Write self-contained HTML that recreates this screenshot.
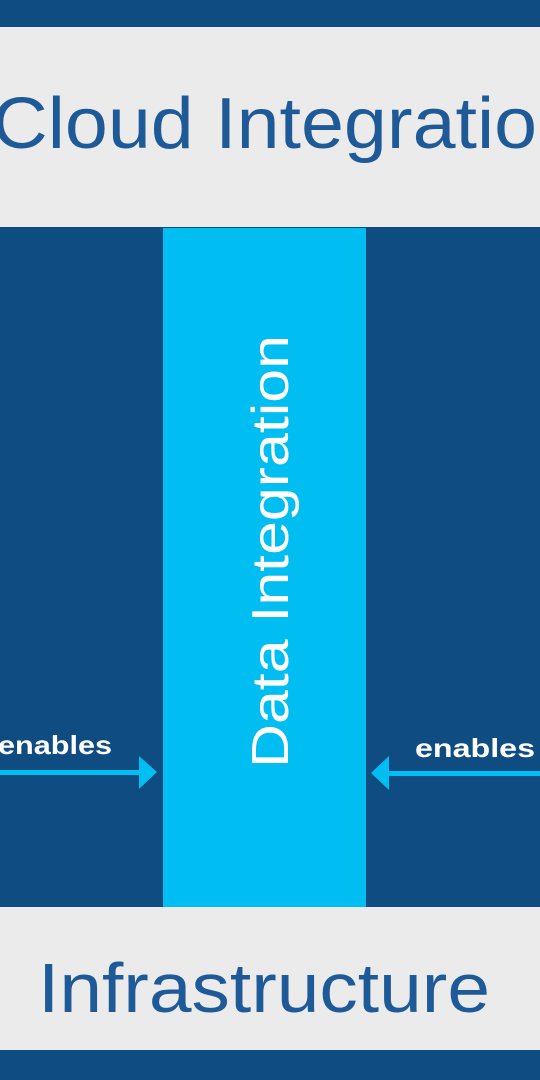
<!DOCTYPE html>
<html><head><meta charset="utf-8"><style>html,body{margin:0;padding:0;background:#0f4c81}svg{display:block}</style></head>
<body>
<svg width="540" height="1080" viewBox="0 0 540 1080" xmlns="http://www.w3.org/2000/svg">
<rect x="0" y="0" width="540" height="1080" fill="#0f4c81"/>
<rect x="0" y="27" width="540" height="200" fill="#ebebeb"/>
<rect x="163" y="228" width="203" height="679" fill="#00bef2"/>
<rect x="0" y="907" width="540" height="143" fill="#ebebeb"/>
<text x="-8" y="148" font-family="Liberation Sans, sans-serif" font-size="72" fill="#1d5a97" textLength="588" lengthAdjust="spacingAndGlyphs">Cloud Integration</text>
<text x="38" y="1012" font-family="Liberation Sans, sans-serif" font-size="70" fill="#1d5a97" textLength="452" lengthAdjust="spacingAndGlyphs">Infrastructure</text>
<text transform="translate(288,768) rotate(-90)" x="0" y="0" font-family="Liberation Sans, sans-serif" font-size="52" fill="#ffffff" textLength="433" lengthAdjust="spacingAndGlyphs">Data Integration</text>
<text x="-2" y="754" font-family="Liberation Sans, sans-serif" font-weight="bold" font-size="26" fill="#ffffff" textLength="114" lengthAdjust="spacingAndGlyphs">enables</text>
<text x="415" y="757" font-family="Liberation Sans, sans-serif" font-weight="bold" font-size="26" fill="#ffffff" textLength="120" lengthAdjust="spacingAndGlyphs">enables</text>
<rect x="0" y="770" width="142" height="5" fill="#00bef2"/>
<polygon points="139,756 157,772 139,789" fill="#00bef2"/>
<rect x="387" y="771" width="153" height="5" fill="#00bef2"/>
<polygon points="389,756 371,773 389,790" fill="#00bef2"/>
</svg>
</body></html>
